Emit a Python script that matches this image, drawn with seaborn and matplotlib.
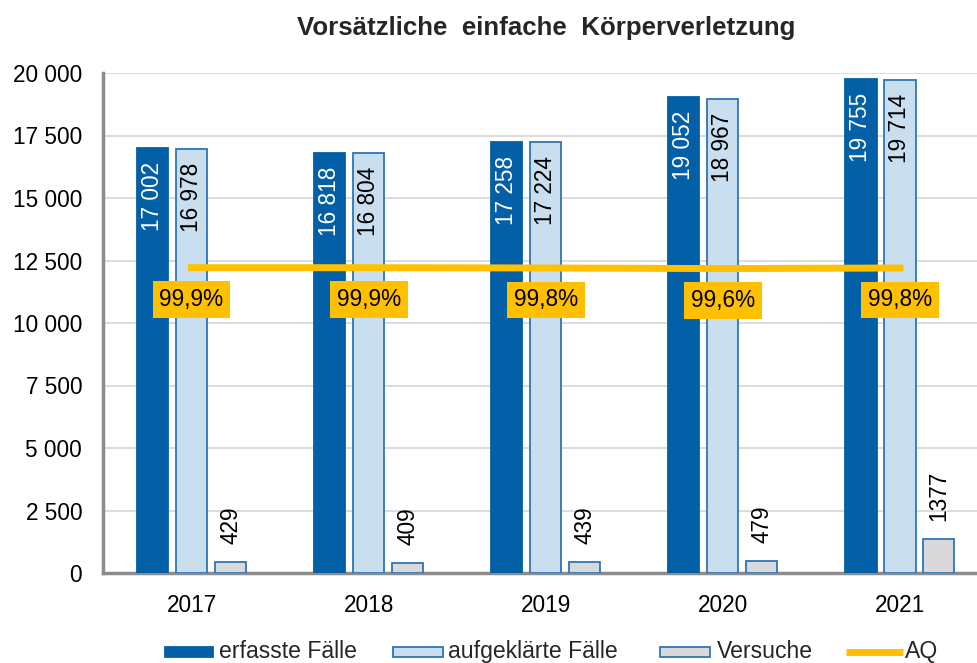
import matplotlib
matplotlib.use("Agg")
import matplotlib.pyplot as plt
from matplotlib.patches import Rectangle
from matplotlib.lines import Line2D
import pandas as pd
import numpy as np
import seaborn as sns

# data
years = ["2017", "2018", "2019", "2020", "2021"]
erfasste = [17002, 16818, 17258, 19052, 19755]
aufgeklaerte = [16978, 16804, 17224, 18967, 19714]
versuche = [429, 409, 439, 479, 1377]
aq = [99.9, 99.9, 99.8, 99.6, 99.8]
series_names = ["erfasste Fälle", "aufgeklärte Fälle", "Versuche"]

DARK_BLUE = "#0360A6"
LIGHT_BLUE = "#C9DFEF"
EDGE_BLUE = "#2E75B6"
GREY = "#D9D9D9"
YELLOW = "#FFC000"
FS = 16.3
W, H = 978, 663

sns.set_theme(style="white")
plt.rcParams["font.family"] = ["Liberation Sans", "DejaVu Sans"]


def fmt(v):
    return f"{v:,}".replace(",", " ")


df = pd.DataFrame({
    "Jahr": years * 3,
    "Wert": erfasste + aufgeklaerte + versuche,
    "Serie": [series_names[0]] * 5 + [series_names[1]] * 5 + [series_names[2]] * 5,
})

fig = plt.figure(figsize=(W/100, H/100), dpi=100)
ax = fig.add_axes([103/W, 1 - 573/H, 885.5/W, 500/H])

sns.barplot(data=df, x="Jahr", y="Wert", hue="Serie",
            palette=[DARK_BLUE, LIGHT_BLUE, GREY], width=0.66, gap=0.2,
            saturation=1, legend=False, ax=ax, zorder=3)

edges = [DARK_BLUE, EDGE_BLUE, EDGE_BLUE]
for cont, ec in zip(ax.containers, edges):
    for bar in cont:
        bar.set_edgecolor(ec)
        bar.set_linewidth(1.3)

# value labels
for k, cont in enumerate(ax.containers):
    for bar in cont:
        v = int(round(bar.get_height()))
        xc = bar.get_x() + bar.get_width() / 2
        if k < 2:
            ax.annotate(fmt(v), (xc, v), xytext=(0, -10), textcoords="offset points",
                        ha="center", va="top", rotation=90, fontsize=FS,
                        color="white" if k == 0 else "black", zorder=5)
        else:
            ax.annotate(str(v), (xc, v), xytext=(0, 13), textcoords="offset points",
                        ha="center", va="bottom", rotation=90, fontsize=FS,
                        color="black", zorder=5)

ax.set_xlim(-0.5, 4.5)
ax.set_ylim(0, 20000)
ax.set_yticks(np.arange(0, 20001, 2500))
ax.set_yticklabels([fmt(int(t)) for t in np.arange(0, 20001, 2500)])
ax.set_xlabel("")
ax.set_ylabel("")
ax.grid(axis="y", color="#D9D9D9", linewidth=1.3, zorder=0)
ax.set_axisbelow(True)
ax.tick_params(axis="both", length=0, labelsize=FS, colors="black")
ax.tick_params(axis="y", pad=15)
ax.tick_params(axis="x", pad=15)
for s in ["top", "right"]:
    ax.spines[s].set_visible(False)
for s in ["left", "bottom"]:
    ax.spines[s].set_color("#8C8C8C")
    ax.spines[s].set_linewidth(2.5)

# Aufklärungsquote on secondary axis
ax2 = ax.twinx()
sns.lineplot(x=np.arange(len(years)), y=aq, color=YELLOW, linewidth=5, ax=ax2, zorder=4)
for ln in ax2.lines:
    ln.set_solid_capstyle("projecting")
ax2.set_ylim(0, 163.6)
ax2.set_axis_off()
for i, q in enumerate(aq):
    ax2.annotate(f"{q:.1f}%".replace(".", ","), (i, q), xytext=(0, -23),
                 textcoords="offset points", ha="center", va="center", fontsize=FS,
                 color="black",
                 bbox=dict(boxstyle="square,pad=0.3", fc=YELLOW, ec="none"))

fig.text(546/W, 1 - 28/H, "Vorsätzliche  einfache  Körperverletzung",
         ha="center", va="center", fontsize=18.6, fontweight="bold")

# legend, laid out by hand so all entries share one baseline
leg_labels = series_names + ["AQ"]
handle_x = [165, 393, 660, 846]
handle_w = [48, 50, 50, 57]
text_x = [219, 448, 717, 905]
faces = [DARK_BLUE, LIGHT_BLUE, GREY]
leg_edges = [DARK_BLUE, EDGE_BLUE, EDGE_BLUE]
for j, lab in enumerate(leg_labels):
    if j < 3:
        fig.add_artist(Rectangle((handle_x[j]/W, 1 - 657/H), handle_w[j]/W, 10/H,
                                 transform=fig.transFigure, facecolor=faces[j],
                                 edgecolor=leg_edges[j], linewidth=1.3))
    else:
        fig.add_artist(Line2D([handle_x[j]/W, (handle_x[j] + handle_w[j])/W],
                              [1 - 651.5/H, 1 - 651.5/H], transform=fig.transFigure,
                              color=YELLOW, linewidth=5, solid_capstyle="butt"))
    fig.text(text_x[j]/W, 1 - 658/H, lab, ha="left", va="baseline", fontsize=16.6)

fig.savefig("out.png", dpi=100)
